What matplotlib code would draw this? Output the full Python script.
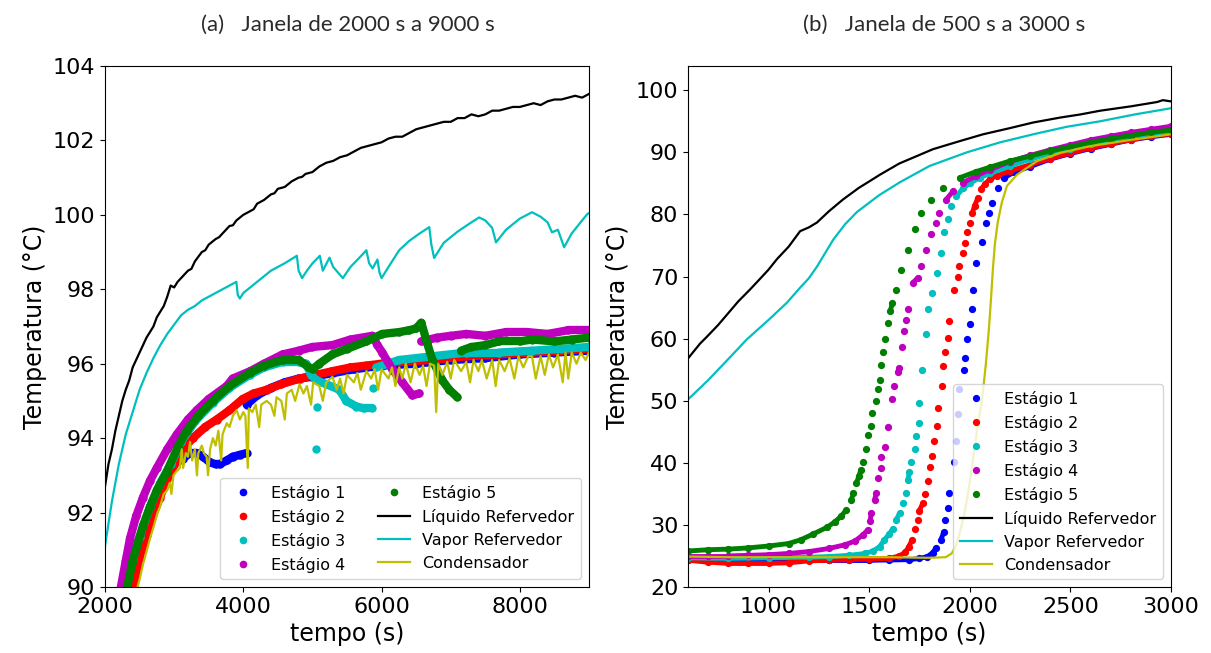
import numpy as np
import matplotlib
matplotlib.use("Agg")
import matplotlib.pyplot as plt
from matplotlib.collections import LineCollection

# ---- (a) janela de 2000 s a 9000 s : (tempo [s], temperatura [C]) ----
a_est1 = [(2380, 90.0), (2450, 90.6), (2505, 91.1), (2600, 91.7), (2700, 92.3), (2800, 92.75),
          (2900, 93.05), (3000, 93.3), (3126, 93.45), (3227, 93.6), (3327, 93.6), (3420, 93.5),
          (3515, 93.35), (3600, 93.3), (3660, 93.3), (3760, 93.4), (3847, 93.5), (3950, 93.55),
          (4049, 93.6), (4049, 94.9), (4200, 95.15), (4400, 95.35), (4600, 95.5), (4800, 95.6),
          (5000, 95.65), (5300, 95.75), (5600, 95.85), (6000, 95.95), (6500, 96.0), (7000, 96.1),
          (7500, 96.15), (8000, 96.25), (8500, 96.3), (9000, 96.35)]
a_est2 = [(2420, 90.0), (2500, 90.8), (2606, 91.4), (2700, 91.95), (2794, 92.4), (2900, 92.9),
          (3039, 93.4), (3150, 93.75), (3270, 94.0), (3450, 94.3), (3616, 94.5), (3800, 94.75),
          (3991, 95.05), (4150, 95.2), (4338, 95.3), (4550, 95.45), (4814, 95.6), (5050, 95.7),
          (5290, 95.8), (5550, 95.9), (5780, 95.95), (6000, 96.0), (6255, 96.05), (6700, 96.1),
          (7225, 96.2), (7700, 96.25), (8175, 96.3), (8600, 96.35), (9000, 96.4)]
a_est3 = [(2300, 90.0), (2400, 90.75), (2500, 91.35), (2650, 92.15), (2800, 92.8), (2950, 93.3),
          (3100, 93.9), (3300, 94.45), (3558, 94.95), (3800, 95.35), (4092, 95.7), (4300, 95.9),
          (4569, 96.05), (4800, 96.05), (4910, 96.0), (4980, 95.7), (5060, 95.55), (5200, 95.45),
          (5390, 95.3), (5490, 95.0), (5635, 94.85), (5750, 94.8), (5865, 94.8), (5925, 95.9),
          (6255, 96.1), (6735, 96.2), (7225, 96.3), (7700, 96.3), (8175, 96.35), (8600, 96.4),
          (9000, 96.45)]
a_est3_isolados = [(5045, 93.7), (5060, 94.85), (5870, 95.35)]
a_est4 = [(2230, 90.0), (2300, 90.7), (2361, 91.3), (2450, 91.9), (2548, 92.4), (2650, 92.85),
          (2750, 93.2), (2900, 93.7), (3039, 94.1), (3200, 94.5), (3328, 94.75), (3500, 95.05),
          (3760, 95.4), (3847, 95.6), (4100, 95.8), (4300, 96.0), (4569, 96.25), (4800, 96.35),
          (5000, 96.45), (5290, 96.5), (5550, 96.65), (5867, 96.75), (5940, 96.5), (6010, 96.3),
          (6155, 95.85), (6300, 95.5), (6445, 95.15), (6545, 95.2), (6575, 96.6), (6800, 96.7),
          (7000, 96.75), (7225, 96.8), (7500, 96.75), (7800, 96.85), (8110, 96.85), (8400, 96.8),
          (8700, 96.9), (9000, 96.9)]
a_est5 = [(2320, 90.0), (2400, 90.7), (2462, 91.1), (2550, 91.65), (2650, 92.15), (2750, 92.6),
          (2895, 93.1), (3050, 93.75), (3183, 94.2), (3350, 94.6), (3558, 95.0), (3800, 95.4),
          (4092, 95.75), (4300, 95.95), (4569, 96.1), (4800, 96.1), (4950, 95.9), (5002, 95.85),
          (5100, 96.0), (5290, 96.25), (5500, 96.4), (5780, 96.6), (6010, 96.8), (6255, 96.85),
          (6400, 96.9), (6500, 96.95), (6575, 97.1), (6660, 96.55), (6735, 96.1), (6880, 95.55),
          (6980, 95.3), (7095, 95.1), (7150, 96.35), (7300, 96.45), (7500, 96.5), (7700, 96.6),
          (8000, 96.6), (8175, 96.65), (8500, 96.6), (8750, 96.65), (9000, 96.7)]
a_liquido = [(2000, 92.7), (2050, 93.3), (2100, 93.7), (2150, 94.2), (2200, 94.6), (2250, 95.0),
             (2300, 95.3), (2350, 95.55), (2400, 95.9), (2450, 96.1), (2500, 96.3), (2600, 96.7),
             (2700, 97.0), (2750, 97.25), (2800, 97.4), (2850, 97.55), (2900, 97.8), (2950, 98.1),
             (3000, 98.05), (3050, 98.2), (3100, 98.3), (3200, 98.5), (3250, 98.55), (3300, 98.75),
             (3400, 99.0), (3450, 99.05), (3500, 99.2), (3600, 99.35), (3650, 99.4), (3700, 99.5),
             (3800, 99.7), (3850, 99.72), (3900, 99.85), (4000, 100.0), (4100, 100.1), (4150, 100.15),
             (4200, 100.3), (4300, 100.4), (4400, 100.55), (4450, 100.58), (4500, 100.7),
             (4600, 100.75), (4700, 100.9), (4800, 101.0), (4850, 101.02), (4900, 101.1),
             (5000, 101.15), (5100, 101.3), (5200, 101.4), (5300, 101.45), (5350, 101.5),
             (5400, 101.55), (5500, 101.6), (5600, 101.7), (5700, 101.8), (5800, 101.85),
             (5900, 101.9), (6000, 101.95), (6100, 102.05), (6200, 102.1), (6300, 102.1),
             (6400, 102.2), (6500, 102.3), (6600, 102.35), (6700, 102.4), (6800, 102.45),
             (6900, 102.5), (7000, 102.5), (7100, 102.6), (7200, 102.6), (7300, 102.7),
             (7400, 102.65), (7500, 102.7), (7600, 102.8), (7700, 102.8), (7800, 102.85),
             (7900, 102.9), (8000, 102.9), (8100, 102.95), (8200, 103.0), (8300, 102.95),
             (8400, 103.05), (8500, 103.1), (8600, 103.1), (8700, 103.15), (8800, 103.2),
             (8900, 103.15), (9000, 103.25)]
a_vapor = [(2000, 91.1), (2100, 92.3), (2200, 93.3), (2300, 94.1), (2400, 94.7), (2500, 95.3),
           (2600, 95.75), (2700, 96.15), (2800, 96.5), (2900, 96.8), (3000, 97.05), (3100, 97.3),
           (3200, 97.45), (3300, 97.55), (3400, 97.7), (3500, 97.8), (3600, 97.9), (3700, 98.0),
           (3800, 98.1), (3900, 98.2), (3920, 97.85), (3950, 97.75), (4000, 97.9), (4200, 98.2),
           (4400, 98.5), (4600, 98.7), (4775, 98.9), (4800, 98.5), (4850, 98.3), (4920, 98.5),
           (5002, 98.7), (5107, 98.9), (5150, 98.5), (5247, 98.85), (5300, 98.6), (5440, 98.3),
           (5550, 98.6), (5680, 98.85), (5780, 99.05), (5820, 98.7), (5870, 98.56), (5940, 98.8),
           (5970, 98.45), (6000, 98.3), (6100, 98.6), (6255, 99.05), (6400, 99.3), (6550, 99.5),
           (6690, 99.67), (6720, 99.2), (6760, 98.84), (6900, 99.25), (7100, 99.55), (7300, 99.8),
           (7410, 99.93), (7500, 99.85), (7600, 99.65), (7655, 99.26), (7800, 99.6), (8000, 99.9),
           (8175, 100.07), (8300, 99.95), (8400, 99.8), (8465, 99.53), (8550, 99.6), (8640, 99.13),
           (8750, 99.5), (8900, 99.85), (8970, 100.01), (9000, 100.05)]
a_condensador = [(2470, 90.0), (2500, 90.2), (2548, 90.6), (2600, 90.95), (2650, 91.3), (2700, 91.6),
                 (2760, 92.0), (2794, 92.15), (2850, 92.5), (2900, 92.6), (2938, 92.8), (2960, 92.5),
                 (2990, 93.0), (3030, 93.1), (3082, 93.2), (3110, 93.7), (3130, 93.2), (3170, 93.6),
                 (3200, 93.5), (3230, 93.9), (3260, 93.4), (3300, 93.7), (3330, 93.0), (3350, 93.6),
                 (3400, 93.8), (3430, 93.6), (3470, 93.5), (3490, 93.0), (3520, 93.7), (3560, 94.0),
                 (3600, 93.8), (3640, 94.2), (3680, 93.4), (3700, 94.1), (3760, 94.4), (3800, 94.3),
                 (3850, 94.6), (3904, 94.75), (3950, 94.5), (4000, 94.7), (4030, 94.6), (4065, 93.2),
                 (4080, 94.8), (4130, 94.7), (4180, 94.9), (4230, 94.3), (4260, 94.9), (4338, 95.0),
                 (4400, 94.9), (4450, 94.6), (4480, 95.1), (4550, 95.0), (4600, 94.5), (4630, 95.2),
                 (4700, 95.3), (4750, 95.0), (4814, 95.45), (4870, 95.2), (4920, 95.4), (4980, 94.9),
                 (5010, 95.5), (5100, 95.4), (5150, 95.0), (5200, 95.5), (5290, 95.65), (5350, 95.3),
                 (5400, 95.6), (5450, 95.2), (5500, 95.7), (5600, 95.5), (5650, 95.75), (5700, 95.3),
                 (5780, 95.8), (5850, 95.6), (5900, 95.85), (5950, 95.3), (6000, 95.85), (6100, 95.6),
                 (6150, 95.9), (6200, 95.4), (6255, 95.9), (6300, 95.6), (6350, 96.0), (6420, 95.5),
                 (6480, 96.0), (6550, 95.7), (6600, 95.95), (6650, 95.4), (6700, 96.0), (6760, 95.95),
                 (6790, 94.7), (6820, 96.0), (6880, 95.7), (6950, 96.05), (7000, 95.6), (7050, 96.1),
                 (7150, 95.8), (7225, 96.05), (7280, 95.5), (7330, 96.1), (7400, 95.8), (7450, 96.1),
                 (7520, 95.6), (7600, 96.1), (7650, 95.4), (7700, 96.1), (7780, 95.8), (7850, 96.15),
                 (7920, 95.6), (7980, 96.2), (8050, 95.9), (8120, 96.2), (8175, 96.2), (8230, 95.6),
                 (8300, 96.2), (8360, 95.7), (8420, 96.25), (8480, 95.9), (8550, 96.25), (8620, 95.5),
                 (8660, 96.3), (8700, 95.6), (8750, 96.3), (8820, 96.0), (8880, 96.3), (8950, 96.1),
                 (9000, 96.3)]

# ---- (b) janela de 500 s a 3000 s ----
b_est1 = [(600, 24.3), (700, 24.2), (800, 24.2), (900, 24.2), (1000, 24.2), (1100, 24.2),
          (1200, 24.3), (1300, 24.3), (1400, 24.3), (1500, 24.3), (1600, 24.35), (1700, 24.4),
          (1750, 24.6), (1790, 24.9), (1815, 25.5), (1833, 26.3), (1857, 27.6), (1870, 28.8),
          (1877, 30.8), (1890, 32.8), (1898, 35.2), (1924, 40.2), (1932, 43.5), (1941, 47.8),
          (1949, 51.9), (1970, 55.0), (1977, 56.8), (1987, 59.9), (2003, 62.4), (2011, 64.8),
          (2014, 67.9), (2030, 72.2), (2063, 75.6), (2080, 78.6), (2096, 80.3), (2113, 81.9),
          (2138, 84.3), (2171, 85.9), (2220, 86.8), (2300, 87.7), (2400, 88.9), (2500, 89.8),
          (2600, 90.6), (2700, 91.3), (2800, 92.0), (2900, 92.5), (3000, 92.9)]
b_est2 = [(600, 24.3), (700, 24.0), (800, 23.8), (900, 23.8), (1000, 23.8), (1100, 23.9),
          (1200, 24.2), (1300, 24.3), (1400, 24.4), (1500, 24.5), (1600, 24.6), (1650, 25.0),
          (1680, 25.6), (1697, 26.5), (1714, 27.6), (1730, 29.3), (1742, 30.8), (1750, 32.3),
          (1767, 33.5), (1780, 35.0), (1791, 37.0), (1803, 39.3), (1813, 41.1), (1821, 43.5),
          (1836, 45.9), (1842, 48.8), (1860, 52.4), (1869, 55.6), (1877, 57.8), (1890, 60.1),
          (1898, 62.9), (1924, 67.9), (1941, 70.0), (1949, 71.7), (1966, 73.8), (1978, 75.4),
          (1988, 77.1), (2000, 78.6), (2013, 80.2), (2024, 81.4), (2041, 82.7), (2058, 84.1),
          (2075, 84.9), (2100, 85.7), (2133, 86.2), (2200, 87.0), (2300, 88.0), (2400, 89.0),
          (2500, 89.9), (2600, 90.7), (2700, 91.4), (2800, 92.0), (2900, 92.6), (3000, 93.0)]
b_est3 = [(600, 24.7), (800, 24.6), (1000, 24.7), (1200, 24.8), (1300, 24.9), (1400, 25.1),
          (1480, 25.4), (1520, 25.8), (1552, 26.5), (1576, 27.6), (1601, 28.6), (1618, 29.4),
          (1635, 30.8), (1651, 31.9), (1667, 33.5), (1681, 35.1), (1692, 37.2), (1700, 38.5),
          (1709, 40.2), (1730, 42.3), (1733, 44.3), (1746, 46.4), (1750, 49.6), (1763, 55.0),
          (1783, 60.7), (1791, 64.8), (1812, 67.3), (1836, 70.6), (1858, 73.8), (1874, 77.1),
          (1891, 79.2), (1908, 81.4), (1933, 82.9), (1966, 84.2), (2000, 85.0), (2049, 85.9),
          (2100, 86.6), (2200, 87.8), (2300, 88.9), (2400, 89.8), (2500, 90.6), (2600, 91.3),
          (2700, 92.0), (2800, 92.6), (2900, 93.0), (3000, 93.4)]
b_est4 = [(600, 25.0), (700, 25.0), (800, 25.0), (900, 25.1), (1000, 25.2), (1100, 25.4),
          (1200, 25.7), (1300, 26.2), (1380, 26.8), (1430, 27.4), (1469, 28.4), (1493, 29.2),
          (1505, 30.6), (1510, 31.9), (1527, 34.0), (1535, 35.1), (1543, 37.5), (1557, 39.2),
          (1560, 41.0), (1577, 42.6), (1594, 45.7), (1615, 50.2), (1623, 52.4), (1643, 54.7),
          (1648, 55.3), (1661, 58.7), (1671, 61.3), (1681, 63.0), (1692, 64.7), (1717, 69.0),
          (1742, 69.8), (1758, 71.7), (1783, 74.3), (1808, 76.8), (1833, 78.6), (1849, 80.3),
          (1883, 82.4), (1916, 83.7), (1966, 85.1), (2032, 86.2), (2100, 87.2), (2200, 88.5),
          (2300, 89.5), (2400, 90.4), (2500, 91.2), (2600, 92.0), (2700, 92.6), (2800, 93.2),
          (2900, 93.7), (3000, 94.2)]
b_est5 = [(600, 25.8), (700, 26.0), (800, 26.1), (900, 26.3), (1000, 26.6), (1100, 27.0),
          (1160, 27.6), (1220, 28.5), (1290, 29.6), (1330, 30.5), (1361, 31.4), (1386, 32.4),
          (1411, 34.0), (1422, 35.1), (1436, 36.7), (1449, 37.8), (1459, 38.9), (1469, 40.2),
          (1482, 42.2), (1493, 44.4), (1510, 45.9), (1515, 48.0), (1535, 49.9), (1543, 51.9),
          (1552, 53.4), (1560, 55.8), (1569, 57.8), (1581, 59.9), (1594, 62.5), (1605, 64.4),
          (1615, 65.7), (1635, 67.9), (1660, 71.1), (1693, 74.3), (1726, 77.6), (1760, 80.3),
          (1809, 82.4), (1867, 84.3), (1950, 85.9), (2032, 86.9), (2100, 87.6), (2200, 88.6),
          (2300, 89.4), (2400, 90.2), (2500, 90.9), (2600, 91.6), (2700, 92.2), (2800, 92.7),
          (2900, 93.2), (3000, 93.6)]
b_liquido = [(600, 56.8), (660, 59.2), (694, 60.3), (750, 62.2), (800, 64.1), (850, 66.0),
             (908, 67.9), (960, 69.7), (1000, 71.1), (1042, 72.8), (1100, 74.8), (1157, 77.3),
             (1200, 77.9), (1241, 78.7), (1300, 80.5), (1370, 82.4), (1450, 84.3), (1500, 85.3),
             (1554, 86.4), (1650, 88.2), (1730, 89.3), (1817, 90.5), (1950, 91.8), (2066, 92.9),
             (2200, 93.9), (2315, 94.8), (2450, 95.6), (2550, 96.1), (2648, 96.7), (2800, 97.4),
             (2931, 98.1), (2960, 98.4), (3000, 98.2)]
b_vapor = [(600, 50.2), (700, 53.3), (800, 56.7), (893, 59.9), (1000, 63.0), (1092, 65.8),
           (1157, 68.2), (1200, 69.7), (1241, 71.6), (1321, 75.9), (1380, 78.4), (1440, 80.4),
           (1550, 83.1), (1654, 85.2), (1800, 87.8), (1986, 90.0), (2150, 91.6), (2315, 92.9),
           (2480, 94.1), (2648, 95.0), (2820, 96.1), (3000, 97.1)]
b_condensador = [(600, 24.9), (800, 24.8), (1000, 24.8), (1200, 24.8), (1400, 24.8), (1600, 24.8),
                 (1800, 24.7), (1880, 24.8), (1910, 25.4), (1930, 26.5), (1950, 28.7), (1970, 31.3),
                 (1986, 34.0), (2000, 36.9), (2020, 41.5), (2040, 46.1), (2061, 50.1), (2080, 55.9),
                 (2095, 61.5), (2105, 66.1), (2115, 71.2), (2125, 75.3), (2140, 78.9), (2160, 82.0),
                 (2185, 84.6), (2235, 86.4), (2335, 88.6), (2450, 89.9), (2600, 91.0), (2800, 92.0),
                 (3000, 92.9)]

rotulos = ["Estágio 1", "Estágio 2", "Estágio 3", "Estágio 4", "Estágio 5",
           "Líquido Refervedor", "Vapor Refervedor", "Condensador"]
cores = ["b", "r", "c", "m", "g", "k", "c", "y"]


def estagio(ax, pts, cor, rotulo, ms, lw, salto):
    # pontos medidos; trechos lentos aparecem como faixa contínua,
    # saltos maiores que `salto` ficam só como pontos soltos
    t, T = np.array(pts).T
    segs = [[(t[i], T[i]), (t[i + 1], T[i + 1])]
            for i in range(len(t) - 1) if abs(T[i + 1] - T[i]) < salto]
    ax.add_collection(LineCollection(segs, colors=cor, linewidths=lw, capstyle="round"))
    ax.plot(t, T, "o", color=cor, ms=ms, label=rotulo)


def linha(ax, pts, cor, rotulo):
    t, T = np.array(pts).T
    ax.plot(t, T, "-", color=cor, lw=1.6, label=rotulo)


fig = plt.figure(figsize=(12.11, 6.53), dpi=100)
ax1 = fig.add_axes([105 / 1211, 66 / 653, 484 / 1211, 521 / 653])
ax2 = fig.add_axes([688 / 1211, 66 / 653, 483 / 1211, 521 / 653])

for pts, cor, rot in zip([a_est1, a_est2, a_est3, a_est4, a_est5], cores, rotulos):
    estagio(ax1, pts, cor, rot, ms=5, lw=6, salto=1.0)
t_iso, T_iso = np.array(a_est3_isolados).T
ax1.plot(t_iso, T_iso, "o", color="c", ms=5)
for pts, cor, rot in zip([a_liquido, a_vapor, a_condensador], cores[5:], rotulos[5:]):
    linha(ax1, pts, cor, rot)

for pts, cor, rot in zip([b_est1, b_est2, b_est3, b_est4, b_est5], cores, rotulos):
    estagio(ax2, pts, cor, rot, ms=4.2, lw=3.5, salto=1.3)
for pts, cor, rot in zip([b_liquido, b_vapor, b_condensador], cores[5:], rotulos[5:]):
    linha(ax2, pts, cor, rot)

ax1.set_xlim(2000, 9000)
ax1.set_ylim(90, 104)
ax1.set_xticks([2000, 4000, 6000, 8000])
ax1.set_yticks(np.arange(90, 105, 2))
ax2.set_xlim(600, 3000)
ax2.set_ylim(20, 103.9)
ax2.set_xticks([1000, 1500, 2000, 2500, 3000])
ax2.set_yticks(np.arange(20, 101, 10))

for ax in (ax1, ax2):
    ax.tick_params(labelsize=16)
    ax.set_xlabel("tempo (s)", fontsize=17)
    ax.set_ylabel("Temperatura (°C)", fontsize=17, labelpad=4)

ax1.legend(loc="lower right", ncol=2, fontsize=11.5, markerscale=0.9)
ax2.legend(loc="lower right", fontsize=11.5)

titulo = dict(fontsize=16, family=["Lato", "DejaVu Sans"], ha="center", va="center",
              color="#2a2a2a")
fig.text(348 / 1211, 1 - 25 / 653, "(a)   Janela de 2000 s a 9000 s", **titulo)
fig.text(944 / 1211, 1 - 25 / 653, "(b)   Janela de 500 s a 3000 s", **titulo)

fig.savefig("out.png", dpi=100)
